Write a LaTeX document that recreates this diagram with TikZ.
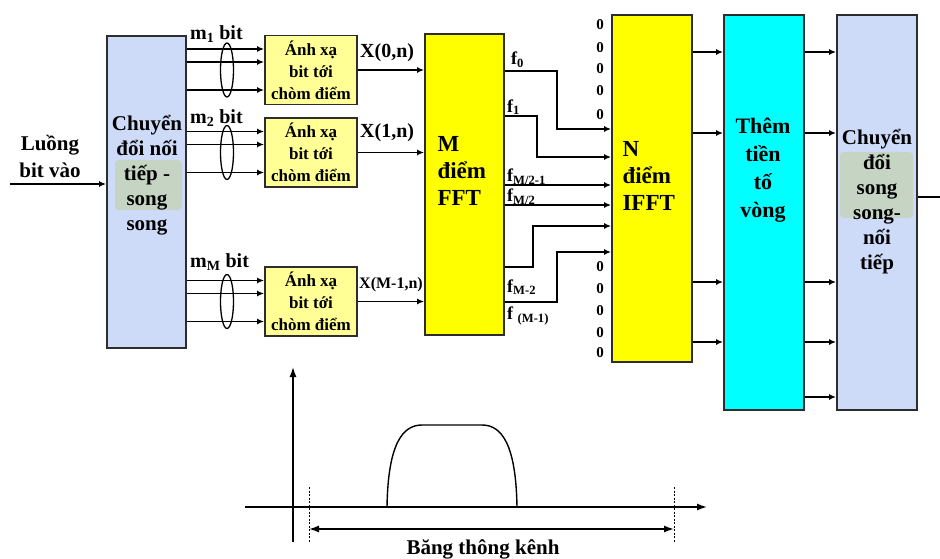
\documentclass[tikz,border=0pt]{standalone}
\usepackage{fontspec}
\setmainfont{Liberation Serif}
\usepackage{tikz}
\usetikzlibrary{arrows.meta,positioning,calc}
\definecolor{convblue}{RGB}{205,218,248}
\definecolor{mapyellow}{RGB}{255,255,150}
\definecolor{fftyellow}{RGB}{255,255,0}
\definecolor{cpcyan}{RGB}{0,255,255}
\definecolor{patchgray}{RGB}{198,212,196}
\definecolor{edgegray}{RGB}{45,45,45}

\begin{document}
\begin{tikzpicture}[x=1pt, y=-1pt,
    every node/.style={font=\bfseries},
    box/.style={draw=edgegray, line width=1.8pt, inner sep=0pt},
    arr/.style={line width=1.5pt, -{Latex[length=7pt,width=6pt]}},
    bigtxt/.style={font=\fontsize{21}{25}\selectfont\bfseries, align=center},
    maptxt/.style={font=\fontsize{17}{22}\selectfont\bfseries, align=center},
    lbl/.style={font=\fontsize{20}{22}\selectfont\bfseries, inner sep=0pt},
    flbl/.style={font=\fontsize{18}{20}\selectfont\bfseries, inner sep=0pt, anchor=west},
    zero/.style={font=\fontsize{15}{15}\selectfont\bfseries, inner sep=0pt}]
        \useasboundingbox (0,0) rectangle (940,559);

        % serial to parallel
        \node[box, fill=convblue, minimum width=79pt, minimum height=312pt] (conv) at (146.5,192) {};
        \fill[patchgray, rounded corners=4pt] (115,160) rectangle (182,210);
        \node[bigtxt] at (147,175) {Chuyển\\đổi nối\\tiếp -\\song\\song};
        \coordinate (in) at (10,184);
        \draw[arr] (in) -- (conv.west |- in);
        \node[font=\fontsize{21}{27}\selectfont\bfseries, align=center] at (50,156) {Luồng\\bit vào};

        % constellation mappers
        \foreach \name/\y in {mapA/70, mapB/152.5, mapC/301.5} {
          \node[box, fill=mapyellow, minimum width=92pt, minimum height=69pt, maptxt] (\name) at (311,\y) {Ánh xạ\\bit tới\\chòm điểm};
          \foreach \dy in {21,8,-20}
            \draw[arr, line width=1.8pt] ([yshift=\dy pt]\name.west -| conv.east) -- ([yshift=\dy pt]\name.west);
          \draw[line width=1.3pt] (227,\y) ellipse [x radius=6.5, y radius=27];
        }
        \node[lbl, anchor=west] at (190,34) {m\textsubscript{1} bit};
        \node[lbl, anchor=west] at (190,118) {m\textsubscript{2} bit};
        \node[lbl, anchor=west] at (190,262) {m\textsubscript{M} bit};

        % FFT and IFFT
        \node[box, fill=fftyellow, minimum width=79pt, minimum height=301pt] (fft) at (464.5,184.5) {};
        \node[font=\fontsize{23}{27}\selectfont\bfseries, align=left, anchor=west] at (434,171) {M\\điểm\\FFT};
        \node[box, fill=fftyellow, minimum width=80pt, minimum height=347pt] (ifft) at (652,188.5) {};
        \node[font=\fontsize{23}{27}\selectfont\bfseries, align=left, anchor=west] at (619,176) {N\\điểm\\IFFT};

        \draw[arr] (mapA.east) -- (fft.west |- mapA.east);
        \draw[arr] (mapB.east) -- (fft.west |- mapB.east);
        \draw[arr] (mapC.east) -- (fft.west |- mapC.east);
        \node[lbl, anchor=west] at (360,53) {X(0,n)};
        \node[lbl, anchor=west] at (360,133) {X(1,n)};
        \node[lbl, anchor=west, font=\fontsize{16}{18}\selectfont\bfseries] at (359,285) {X(M-1,n)};

        % subcarrier mapping onto IFFT inputs
        \draw[arr] (fft.east |- 0,71) -| (557,129) -- (ifft.west |- 0,129);
        \draw[arr] (fft.east |- 0,116) -| (537,157) -- (ifft.west |- 0,157);
        \draw[arr] (fft.east |- 0,185) -- (ifft.west |- 0,185);
        \draw[arr] (fft.east |- 0,205) -- (ifft.west |- 0,205);
        \draw[arr] (fft.east |- 0,267) -| (533,226) -- (ifft.west |- 0,226);
        \draw[arr] (fft.east |- 0,302) -| (557,252) -- (ifft.west |- 0,252);
        \node[flbl] at (511,60) {f\textsubscript{0}};
        \node[flbl] at (507,107) {f\textsubscript{1}};
        \node[flbl] at (507,177) {f\textsubscript{M/2-1}};
        \node[flbl] at (507,197) {f\textsubscript{M/2}};
        \node[flbl] at (507,287) {f\textsubscript{M-2}};
        \node[flbl] at (507,316) {f \textsubscript{(M-1)}};
        \foreach \y in {25,48,69,91,115,267,289,311,333,353}
          \node[zero] at (600,\y) {0};

        % cyclic prefix and parallel to serial
        \node[box, fill=cpcyan, minimum width=80pt, minimum height=395pt] (cp) at (764,212.5) {};
        \node[font=\fontsize{22}{28}\selectfont\bfseries, align=center] at (763,170) {Thêm\\tiền\\tố\\vòng};
        \node[box, fill=convblue, minimum width=80pt, minimum height=395pt] (ps) at (877,212.5) {};
        \fill[patchgray, rounded corners=4pt] (840,152) rectangle (913,218);
        \node[bigtxt] at (877,202) {Chuyển\\đổi\\song\\song-\\nối\\tiếp};
        \foreach \y in {52,133,282,342}
          \draw[arr] (ifft.east |- 0,\y) -- (cp.west |- 0,\y);
        \foreach \y in {52,133,282,342,397}
          \draw[arr] (cp.east |- 0,\y) -- (ps.west |- 0,\y);
        \coordinate (out) at (940,197);
        \draw[line width=1.5pt] (ps.east |- out) -- (out);

        % channel bandwidth sketch
        \coordinate (yax) at (293,542);
        \coordinate (xax) at (245,507);
        \draw[line width=1.4pt, -{Latex[length=10pt,width=7pt]}] (yax) -- (293,367);
        \draw[line width=1.4pt, -{Latex[length=10pt,width=7pt]}] (xax) -- (707,507);
        \draw[line width=1.4pt] (387,507) .. controls (388,445) and (402,425) .. (422,425)
          -- (482,425) .. controls (502,425) and (516,445) .. (517,507);
        \draw[dashed, line width=0.9pt, dash pattern=on 2pt off 1.5pt] (309,487) -- (309,543);
        \draw[dashed, line width=0.9pt, dash pattern=on 2pt off 1.5pt] (674,487) -- (674,543);
        \coordinate (bwL) at (309,529);
        \coordinate (bwR) at (674,529);
        \draw[line width=1.4pt, {Latex[length=10pt,width=7pt]}-{Latex[length=10pt,width=7pt]}] (bwL) -- (bwR);
        \node[font=\fontsize{21}{25}\selectfont\bfseries] at (483,549) {Băng thông kênh};
      \end{tikzpicture}
\end{document}
